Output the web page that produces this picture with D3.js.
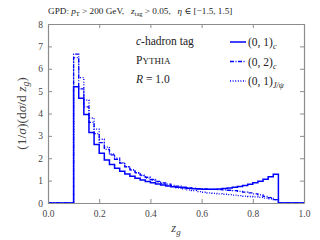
<!DOCTYPE html>
<html>
<head>
<meta charset="utf-8">
<script src="https://cdn.jsdelivr.net/npm/d3@7"></script>
<style>
  body { margin: 0; background: #fff; }
  text { font-family: "Liberation Serif", "DejaVu Serif", serif; }
</style>
</head>
<body>
<div id="chart"></div>
<script>
// bin lower edges run 0.10 .. 0.88, width 0.02
const binStart = 0.1;
const binWidth = 0.02;

const solidC = [5.2, 4.68, 3.96, 3.15, 2.62, 2.22, 1.92, 1.72, 1.55, 1.42,
  1.30, 1.20, 1.11, 1.03, 0.96, 0.90, 0.85, 0.80, 0.76, 0.73,
  0.70, 0.68, 0.66, 0.64, 0.63, 0.62, 0.62, 0.62, 0.63, 0.65,
  0.67, 0.70, 0.74, 0.78, 0.84, 0.90, 0.97, 1.06, 1.17, 1.29];

const dashC = [6.65, 5.1, 4.3, 3.6, 3.1, 2.7, 2.4, 2.15, 1.95, 1.78,
  1.62, 1.48, 1.36, 1.25, 1.15, 1.05, 0.97, 0.90, 0.84, 0.79,
  0.75, 0.71, 0.68, 0.66, 0.64, 0.63, 0.62, 0.61, 0.60, 0.59,
  0.57, 0.55, 0.52, 0.49, 0.45, 0.41, 0.36, 0.30, 0.24, 0.15];

const dotJpsi = [6.5, 5.6, 4.6, 3.8, 3.3, 2.85, 2.5, 2.2, 2.0, 1.8,
  1.62, 1.47, 1.34, 1.22, 1.11, 1.02, 0.93, 0.86, 0.79, 0.73,
  0.68, 0.63, 0.59, 0.55, 0.51, 0.48, 0.45, 0.43, 0.41, 0.39,
  0.37, 0.35, 0.33, 0.31, 0.29, 0.27, 0.25, 0.22, 0.19, 0.15];

const xTicks = [0.0, 0.2, 0.4, 0.6, 0.8, 1.0];
const yTicks = [0, 1, 2, 3, 4, 5, 6, 7, 8];

const svgWidth = 320;
const svgHeight = 240;
const margin = { top: 24, right: 16, bottom: 37, left: 48 };
const width = svgWidth - margin.left - margin.right;
const height = svgHeight - margin.top - margin.bottom;
const blue = "#0000ff";
const frameColor = "#8c8c8c";
const labelColor = "#444";

const svg = d3.select("#chart")
  .append("svg")
  .attr("width", svgWidth)
  .attr("height", svgHeight);

const g = svg.append("g")
  .attr("transform", "translate(" + margin.left + "," + margin.top + ")");

const xScale = d3.scaleLinear().domain([0, 1]).range([0, width]);
const yScale = d3.scaleLinear().domain([0, 8]).range([height, 0]);

function toPoints(values) {
  const pts = [[0, 0]];
  values.forEach(function(v, i) {
    pts.push([binStart + i * binWidth, v]);
  });
  pts.push([binStart + values.length * binWidth, 0]);
  pts.push([1, 0]);
  return pts;
}

const line = d3.line()
  .x(function(d) { return xScale(d[0]); })
  .y(function(d) { return yScale(d[1]); })
  .curve(d3.curveStepAfter);

const series = [
  { values: dotJpsi, dash: "1,1.6", width: 1.3 },
  { values: dashC, dash: "4,1.5,1,1.5", width: 1.3 },
  { values: solidC, dash: null, width: 1.5 }
];

g.selectAll("path.hist")
  .data(series)
  .enter()
  .append("path")
  .attr("class", "hist")
  .attr("d", function(d) { return line(toPoints(d.values)); })
  .style("fill", "none")
  .style("stroke", blue)
  .style("stroke-width", function(d) { return d.width; })
  .style("stroke-dasharray", function(d) { return d.dash; });

// axes, ticks inward on all four sides
const xAxis = d3.axisBottom(xScale).tickValues(xTicks).tickSizeInner(-4).tickSizeOuter(0)
  .tickPadding(7).tickFormat(d3.format(".1f"));
const xAxisTop = d3.axisTop(xScale).tickValues(xTicks).tickSizeInner(-4).tickSizeOuter(0).tickFormat("");
const yAxis = d3.axisLeft(yScale).tickValues(yTicks).tickSizeInner(-4).tickSizeOuter(0).tickPadding(5);
const yAxisRight = d3.axisRight(yScale).tickValues(yTicks).tickSizeInner(-4).tickSizeOuter(0).tickFormat("");

g.append("g").attr("transform", "translate(0," + height + ")").call(xAxis);
g.append("g").call(xAxisTop);
g.append("g").call(yAxis);
g.append("g").attr("transform", "translate(" + width + ",0)").call(yAxisRight);

g.selectAll(".domain").style("stroke", frameColor).style("stroke-width", 1.2);
g.selectAll(".tick line").style("stroke", frameColor);
g.selectAll(".tick text")
  .style("font-family", "Liberation Serif, serif")
  .style("font-size", "9.5px")
  .style("fill", labelColor);

// axis labels
const xLabel = svg.append("text")
  .attr("x", margin.left + width / 2)
  .attr("y", 232)
  .style("text-anchor", "middle")
  .style("font-size", "12.5px")
  .style("fill", labelColor);
xLabel.append("tspan").style("font-style", "italic").text("z");
xLabel.append("tspan").attr("dy", 3).style("font-size", "9px").style("font-style", "italic").text("g");

const yLabel = svg.append("text")
  .attr("transform", "translate(26," + (margin.top + height / 2) + ") rotate(-90)")
  .style("text-anchor", "middle")
  .style("font-size", "13.5px")
  .style("fill", labelColor);
yLabel.append("tspan").text("(1/");
yLabel.append("tspan").style("font-style", "italic").text("σ");
yLabel.append("tspan").text(")(d");
yLabel.append("tspan").style("font-style", "italic").text("σ");
yLabel.append("tspan").text("/d ");
yLabel.append("tspan").style("font-style", "italic").text("z");
yLabel.append("tspan").attr("dy", 3).style("font-size", "9.5px").style("font-style", "italic").text("g");
yLabel.append("tspan").attr("dy", -3).text(")");

// title
const title = svg.append("text")
  .attr("x", 48)
  .attr("y", 14)
  .style("font-size", "9.2px")
  .style("fill", "#222");
title.append("tspan").text("GPD: ");
title.append("tspan").style("font-style", "italic").text("p");
title.append("tspan").attr("dy", 1.5).style("font-size", "6.5px").text("T");
title.append("tspan").attr("dy", -1.5).text(" > 200 GeV,\u00a0\u00a0\u00a0");
title.append("tspan").style("font-style", "italic").text("z");
title.append("tspan").attr("dy", 1.5).style("font-size", "6.5px").text("tag");
title.append("tspan").attr("dy", -1.5).text(" > 0.05,\u00a0\u00a0\u00a0");
title.append("tspan").style("font-style", "italic").text("η");
title.append("tspan").text(" ∈ [−1.5, 1.5]");

// info text
const info = svg.append("g").style("fill", "#222").style("font-size", "11.5px");
const t1 = info.append("text").attr("x", 136).attr("y", 45);
t1.append("tspan").style("font-style", "italic").text("c");
t1.append("tspan").text("-hadron tag");
const t2 = info.append("text").attr("x", 136).attr("y", 64);
t2.append("tspan").text("P");
t2.append("tspan").style("font-size", "9px").text("YTHIA");
const t3 = info.append("text").attr("x", 136).attr("y", 83);
t3.append("tspan").style("font-style", "italic").text("R");
t3.append("tspan").text(" = 1.0");

// legend
const legendItems = [
  { dash: null, width: 1.5, main: "(0, 1)", sub: "c" },
  { dash: "4,1.5,1,1.5", width: 1.3, main: "(0, 2)", sub: "c" },
  { dash: "1,1.6", width: 1.3, main: "(0, 1)", sub: "J/ψ" }
];

const legend = svg.selectAll("g.legend")
  .data(legendItems)
  .enter()
  .append("g")
  .attr("class", "legend")
  .attr("transform", function(d, i) { return "translate(230," + (42 + i * 19.5) + ")"; });

legend.append("line")
  .attr("x1", 0).attr("x2", 16)
  .attr("y1", 0).attr("y2", 0)
  .style("stroke", blue)
  .style("stroke-width", function(d) { return d.width; })
  .style("stroke-dasharray", function(d) { return d.dash; });

const legendText = legend.append("text")
  .attr("x", 18)
  .attr("y", 4)
  .style("font-size", "11.5px")
  .style("fill", "#222");
legendText.append("tspan").text(function(d) { return d.main; });
legendText.append("tspan")
  .attr("dy", 3)
  .style("font-size", "8px")
  .style("font-style", "italic")
  .text(function(d) { return d.sub; });
</script>
</body>
</html>
